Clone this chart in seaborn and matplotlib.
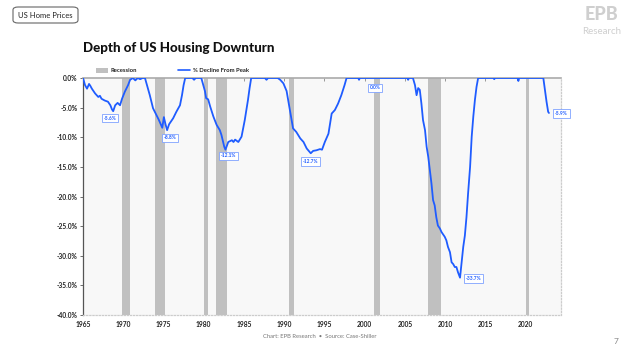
import matplotlib
matplotlib.use("Agg")
import matplotlib.pyplot as plt
import seaborn as sns
import pandas as pd
from matplotlib.patches import Patch, FancyBboxPatch
from matplotlib.lines import Line2D
import matplotlib.ticker as mticker

years = [1965.0, 1965.25, 1965.5, 1965.75, 1965.9, 1966.1, 1966.5, 1966.9, 1967.1, 1967.3,
         1967.7, 1968.1, 1968.4, 1968.6, 1968.75, 1969.0, 1969.3, 1969.6, 1969.85, 1970.2,
         1970.6, 1970.85, 1971.2, 1971.5, 1971.8, 1972.1, 1972.4, 1972.7, 1972.95, 1973.3,
         1973.7, 1974.1, 1974.4, 1974.65, 1974.85, 1975.05, 1975.25, 1975.45, 1975.7, 1976.2,
         1976.6, 1977.05, 1977.3, 1977.5, 1977.7, 1978.6, 1978.8, 1979.0, 1979.7, 1979.95,
         1980.15, 1980.3, 1980.55, 1980.8, 1981.2, 1981.6, 1982.0, 1982.2, 1982.55, 1982.7,
         1983.05, 1983.5, 1983.7, 1983.9, 1984.3, 1984.7, 1984.9, 1985.1, 1985.3, 1985.5,
         1985.7, 1985.9, 1987.6, 1987.8, 1988.0, 1989.2, 1989.5, 1989.9, 1990.3, 1990.7,
         1991.1, 1991.5, 1992.0, 1992.4, 1992.8, 1993.3, 1993.6, 1994.0, 1994.45, 1994.7,
         1995.05, 1995.5, 1995.9, 1996.3, 1996.7, 1997.1, 1997.5, 1997.75, 1999.2, 1999.3,
         1999.4, 2005.3, 2005.4, 2005.5, 2006.0, 2006.25, 2006.45, 2006.65, 2006.85, 2007.05,
         2007.25, 2007.5, 2007.7, 2007.9, 2008.1, 2008.3, 2008.5, 2008.7, 2008.9, 2009.1,
         2009.35, 2009.55, 2009.95, 2010.15, 2010.35, 2010.6, 2010.8, 2011.0, 2011.2, 2011.4,
         2011.6, 2011.85, 2012.05, 2012.25, 2012.45, 2012.65, 2012.85, 2013.1, 2013.3, 2013.5,
         2013.7, 2013.9, 2014.1, 2016.0, 2016.1, 2016.2, 2019.0, 2019.1, 2019.2, 2022.2,
         2022.4, 2022.6, 2022.8, 2022.9]
decline = [0.0, -1.2, -1.8, -1.0, -1.3, -1.8, -2.6, -3.2, -3.0, -3.5,
           -3.8, -4.0, -4.6, -5.3, -5.6, -4.6, -4.2, -4.6, -3.5, -2.3,
           -1.2, -0.3, 0.0, -0.4, 0.0, -0.2, 0.0, 0.0, -1.2, -2.9,
           -5.1, -6.2, -7.0, -7.8, -8.4, -6.6, -7.8, -8.8, -7.8, -6.8,
           -5.7, -4.6, -2.9, -1.2, 0.0, 0.0, -0.3, 0.0, 0.0, -1.2,
           -2.2, -3.4, -3.6, -4.8, -6.5, -7.9, -8.8, -9.6, -11.6, -12.1,
           -10.8, -10.5, -10.8, -10.4, -10.8, -9.9, -8.5, -7.1, -5.4, -3.7,
           -1.7, 0.0, 0.0, -0.3, 0.0, 0.0, -0.3, -0.9, -2.2, -5.4,
           -8.5, -9.1, -10.2, -10.8, -11.9, -12.7, -12.3, -12.2, -12.0, -12.1,
           -10.8, -9.4, -6.0, -5.4, -4.3, -2.9, -1.2, 0.0, 0.0, -0.3,
           0.0, 0.0, -0.3, 0.0, 0.0, -1.2, -2.9, -1.7, -2.0, -4.3,
           -7.1, -8.8, -11.6, -13.3, -15.6, -17.8, -20.6, -21.5, -23.5, -24.9,
           -25.4, -26.0, -26.8, -27.4, -28.5, -29.4, -31.1, -31.4, -31.9, -31.9,
           -32.8, -33.7, -31.1, -28.5, -26.6, -23.5, -19.5, -15.0, -9.9, -6.5,
           -3.7, -1.5, 0.0, 0.0, -0.2, 0.0, 0.0, -0.5, 0.0, 0.0,
           -2.0, -4.0, -5.7, -5.9]

rec_start = [1969.9, 1973.9, 1980.0, 1981.5, 1990.55, 2001.2, 2007.9, 2020.1]
rec_end = [1970.9, 1975.2, 1980.55, 1982.9, 1991.2, 2001.9, 2009.5, 2020.4]

label_years = [1968.75, 1975.45, 1982.7, 1993.3, 2001.3, 2011.85, 2022.9]
label_vals = [-5.6, -8.8, -12.1, -12.7, 0.0, -33.7, -5.9]
label_offsets = [(-2, -5), (2, -5.5), (2, -4.5), (0, -6), (0, -7), (10, -0.5), (9, -0.5)]

xticks = list(range(1965, 2021, 5))
yticks = list(range(0, -41, -5))

BLUE = "#1f5cff"
DARK = "#222222"

sns.set_theme(style="white")
plt.rcParams["font.family"] = ["Lato", "DejaVu Sans"]

fig = plt.figure(figsize=(6.4, 3.58), dpi=100)
ax = fig.add_axes([0.1297, 0.1201, 0.7469, 0.662])
ax.set_facecolor("#f8f8f8")

df = pd.DataFrame({"year": years, "decline": decline})
for s, e in zip(rec_start, rec_end):
    ax.axvspan(s, e, color="#c0c0c0", lw=0, zorder=1)
sns.lineplot(data=df, x="year", y="decline", ax=ax, color=BLUE, lw=1.3, zorder=3)

ax.set_xlim(1965, 2024.4)
ax.set_ylim(-40, 0)
ax.set_xticks(xticks)
ax.set_yticks(yticks)
ax.yaxis.set_major_formatter(mticker.FuncFormatter(lambda v, p: f"{v:.1f}%"))
ax.set_xlabel("")
ax.set_ylabel("")
for lab in ax.get_xticklabels() + ax.get_yticklabels():
    lab.set_fontweight("bold")
    lab.set_fontsize(4.8)
    lab.set_color(DARK)
ax.tick_params(axis="x", top=True, bottom=False, direction="in", length=2.5,
               width=0.6, color="#888888", labelbottom=True, pad=4)
ax.tick_params(axis="y", left=True, direction="out", length=2, width=0.6,
               color="#555555", pad=2)

ax.spines["left"].set_color("#555555")
ax.spines["left"].set_linewidth(0.9)
ax.spines["top"].set_color("#aaaaaa")
ax.spines["top"].set_linewidth(1.2)
for side in ["right", "bottom"]:
    ax.spines[side].set_color("#cccccc")
    ax.spines[side].set_linestyle((0, (1, 1.5)))
    ax.spines[side].set_linewidth(0.9)

for yv, vv, off in zip(label_years, label_vals, label_offsets):
    ax.annotate(f"{vv:.1f}%", xy=(yv, vv), xytext=off, textcoords="offset points",
                ha="center", va="center", fontsize=3.5, fontweight="bold", color=BLUE,
                bbox=dict(boxstyle="square,pad=0.35", fc="white", ec="#7fa2ff", lw=0.6),
                zorder=5)

handles = [Patch(facecolor="#c0c0c0", edgecolor="none", label="Recession"),
           Line2D([0], [0], color=BLUE, lw=1.2, label="% Decline From Peak")]
leg = ax.legend(handles=handles, ncol=2, loc="lower left", bbox_to_anchor=(0.019, 1.005),
                frameon=False, fontsize=4.2, handlelength=2.2, handleheight=0.9,
                columnspacing=6.9, handletextpad=0.4, borderaxespad=0.2)
for t in leg.get_texts():
    t.set_color(DARK)
    t.set_fontweight("bold")

fig.text(83 / 640, 1 - 48 / 358, "Depth of US Housing Downturn", fontsize=9.6,
         fontweight="black", color="#111111", ha="left", va="center")

box = FancyBboxPatch((13 / 640, 1 - 23 / 358), 65 / 640, 16 / 358,
                     boxstyle="round,pad=0,rounding_size=0.008",
                     transform=fig.transFigure, fc="white", ec="#666666", lw=0.8)
fig.patches.append(box)
fig.text(45.5 / 640, 1 - 15 / 358, "US Home Prices", fontsize=5.5, color="#222222",
         ha="center", va="center")

fig.text(602 / 640, 1 - 15 / 358, "EPB", fontsize=13, fontweight="black", color="#cfcfcf",
         ha="center", va="center")
fig.text(602 / 640, 1 - 31 / 358, "Research", fontsize=7, color="#cfcfcf",
         ha="center", va="center")

fig.text(320 / 640, 1 - 336 / 358, "Chart: EPB Research  \u2022  Source: Case-Shiller",
         fontsize=4.2, color="#777777", ha="center", va="center")
fig.text(616 / 640, 1 - 341 / 358, "7", fontsize=6, color="#888888", ha="center", va="center")

fig.savefig("out.png", dpi=100)
